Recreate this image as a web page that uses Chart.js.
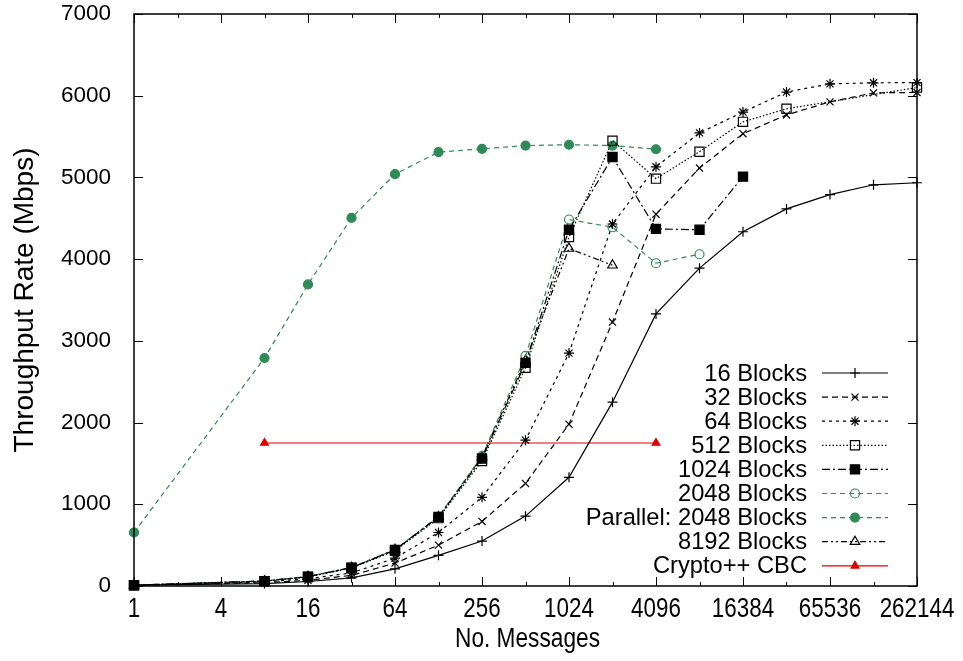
<!DOCTYPE html>
<html>
<head>
<meta charset="utf-8">
<script src="https://cdn.jsdelivr.net/npm/chart.js@4.4.1/dist/chart.umd.min.js"></script>
<style>
html, body { margin: 0; padding: 0; background: #fff; }
#wrap { width: 963px; height: 661px; }
</style>
</head>
<body>
<div id="wrap"><canvas id="chart" width="963" height="661"></canvas></div>
<script>
// message counts (x) and throughput in Mbps (y)
const messages = [1, 8, 16, 32, 64, 128, 256, 512, 1024, 2048, 4096, 8192, 16384, 32768, 65536, 131072, 262144];
const blocks16 = [10, 30, 55, 100, 210, 375, 550, 855, 1330, 2250, 3330, 3890, 4335, 4615, 4790, 4910, 4935];
const blocks32 = [10, 40, 70, 130, 280, 500, 790, 1255, 1980, 3230, 4550, 5115, 5535, 5765, 5925, 6035, 6040];
const blocks64 = [10, 50, 90, 160, 340, 655, 1085, 1785, 2850, 4430, 5130, 5545, 5800, 6045, 6145, 6158, 6160];
const blocks512 = [10, 60, 110, 220, 430, 830, 1530, 2670, 4270, 5450, 4985, 5315, 5680, 5840, null, null, 6100];
const blocks1024 = [10, 60, 115, 225, 440, 845, 1560, 2730, 4360, 5250, 4370, 4360, 5010];
const blocks2048 = [10, 60, 115, 225, 445, 850, 1590, 2815, 4485, 4390, 3950, 4060];
const parallel2048 = [655, 2790, 3690, 4505, 5040, 5310, 5350, 5390, 5400, 5390, 5345];
const blocks8192 = [10, 60, 115, 225, 445, 845, 1580, 2760, 4130, 3925];
const cryptoMessages = [8, 4096];
const cryptoRate = [1750, 1750];

const xTicks = [1, 4, 16, 64, 256, 1024, 4096, 16384, 65536, 262144];
const xMinor = [2, 8, 32, 128, 512, 2048, 8192, 32768, 131072];
const yTicks = [0, 1000, 2000, 3000, 4000, 5000, 6000, 7000];

const GREEN = '#2e8b57';
const FONT = '"Liberation Sans", Arial, Helvetica, sans-serif';

function pts(xs, ys) {
    return ys.map((y, i) => ({ x: xs[i], y: y })).filter(p => p.y !== null);
}

const series = [
    { label: '16 Blocks', data: pts(messages, blocks16), color: '#000', dash: [], style: 'cross', r: 5, open: false },
    { label: '32 Blocks', data: pts(messages, blocks32), color: '#000', dash: [6, 4], style: 'crossRot', r: 5, open: false },
    { label: '64 Blocks', data: pts(messages, blocks64), color: '#000', dash: [3, 4], style: 'star', r: 5, open: false },
    { label: '512 Blocks', data: pts(messages, blocks512), color: '#000', dash: [1.5, 2], style: 'rect', r: 6.5, open: true },
    { label: '1024 Blocks', data: pts(messages, blocks1024), color: '#000', dash: [8, 3, 2, 3], style: 'rect', r: 6.5, open: false },
    { label: '2048 Blocks', data: pts(messages, blocks2048), color: GREEN, dash: [5, 4], style: 'circle', r: 4.5, open: true },
    { label: 'Parallel: 2048 Blocks', data: pts(messages, parallel2048), color: GREEN, dash: [5, 4], style: 'circle', r: 4.5, open: false },
    { label: '8192 Blocks', data: pts(messages, blocks8192), color: '#000', dash: [6, 3, 2, 3, 2, 3], style: 'triangle', r: 5.5, open: true },
    { label: 'Crypto++ CBC', data: pts(cryptoMessages, cryptoRate), color: '#e00000', dash: [], style: 'triangle', r: 4.5, open: false }
];

const datasets = series.map(s => ({
    label: s.label,
    data: s.data,
    borderColor: s.color,
    backgroundColor: s.open ? 'rgba(0,0,0,0)' : s.color,
    borderWidth: 1.2,
    borderDash: s.dash,
    pointStyle: s.style,
    pointRadius: s.r,
    pointBorderColor: s.color,
    pointBackgroundColor: s.open ? 'rgba(0,0,0,0)' : s.color,
    pointBorderWidth: 1.2,
    tension: 0,
    fill: false,
    clip: false
}));

// gnuplot style frame with inward ticks
const framePlugin = {
    id: 'frame',
    afterDatasetsDraw(chart) {
        const { ctx, chartArea: a, scales } = chart;
        ctx.save();
        ctx.strokeStyle = '#000';
        ctx.lineWidth = 1.5;
        ctx.setLineDash([]);
        ctx.strokeRect(a.left, a.top, a.right - a.left, a.bottom - a.top);
        ctx.lineWidth = 1;
        ctx.beginPath();
        xTicks.forEach(v => {
            const x = Math.round(scales.x.getPixelForValue(v)) + 0.5;
            ctx.moveTo(x, a.bottom); ctx.lineTo(x, a.bottom - 9);
            ctx.moveTo(x, a.top); ctx.lineTo(x, a.top + 9);
        });
        xMinor.forEach(v => {
            const x = Math.round(scales.x.getPixelForValue(v)) + 0.5;
            ctx.moveTo(x, a.bottom); ctx.lineTo(x, a.bottom - 4);
            ctx.moveTo(x, a.top); ctx.lineTo(x, a.top + 4);
        });
        yTicks.forEach(v => {
            const y = Math.round(scales.y.getPixelForValue(v)) + 0.5;
            ctx.moveTo(a.left, y); ctx.lineTo(a.left + 9, y);
            ctx.moveTo(a.right, y); ctx.lineTo(a.right - 9, y);
        });
        ctx.stroke();
        ctx.restore();
    }
};

// x labels are narrow and tall in the original, y title is large
const axisTextPlugin = {
    id: 'axisText',
    afterDraw(chart) {
        const { ctx, chartArea: a, scales } = chart;
        ctx.save();
        ctx.fillStyle = '#000';
        ctx.font = '28px ' + FONT;
        ctx.textAlign = 'center';
        ctx.textBaseline = 'alphabetic';
        xTicks.forEach(v => {
            const x = scales.x.getPixelForValue(v);
            ctx.save();
            ctx.translate(x, 617);
            ctx.scale(0.8, 1);
            ctx.fillText(String(v), 0, 0);
            ctx.restore();
        });
        ctx.save();
        ctx.translate((a.left + a.right) / 2 + 2, 647);
        ctx.scale(0.81, 1);
        ctx.fillText('No. Messages', 0, 0);
        ctx.restore();

        ctx.save();
        ctx.translate(33, (a.top + a.bottom) / 2);
        ctx.rotate(-Math.PI / 2);
        ctx.fillText('Throughput Rate (Mbps)', 0, 0);
        ctx.restore();
        ctx.restore();
    }
};

// key inside the plot, bottom right
const keyPlugin = {
    id: 'key',
    afterDraw(chart) {
        const ctx = chart.ctx;
        const textRight = 807, lineL = 822, lineR = 888, mark = 855;
        ctx.save();
        ctx.font = '23.7px ' + FONT;
        ctx.textAlign = 'right';
        ctx.textBaseline = 'middle';
        series.forEach((s, i) => {
            const y = 373 + i * 24.1;
            ctx.fillStyle = '#000';
            ctx.fillText(s.label, textRight, y + 1);
            ctx.strokeStyle = s.color;
            ctx.lineWidth = 1.2;
            ctx.setLineDash(s.dash);
            ctx.beginPath();
            ctx.moveTo(lineL, y);
            ctx.lineTo(lineR, y);
            ctx.stroke();
            ctx.setLineDash([]);
            ctx.fillStyle = s.open ? 'rgba(0,0,0,0)' : s.color;
            Chart.helpers.drawPoint(ctx, { pointStyle: s.style, radius: s.r, rotation: 0, borderWidth: 1.2 }, mark, y);
        });
        ctx.restore();
    }
};

new Chart(document.getElementById('chart'), {
    type: 'line',
    data: { datasets: datasets },
    options: {
        responsive: false,
        animation: false,
        devicePixelRatio: 1,
        layout: { padding: { top: 14, right: 46, left: 0, bottom: 0 } },
        plugins: { legend: { display: false }, tooltip: { enabled: false } },
        scales: {
            x: {
                type: 'logarithmic',
                min: 1,
                max: 262144,
                grid: { display: false },
                border: { display: false },
                afterBuildTicks: s => { s.ticks = xTicks.map(v => ({ value: v })); },
                afterFit: s => { s.height = 75; s.paddingLeft = 0; s.paddingRight = 0; },
                ticks: { display: false },
                title: { display: false }
            },
            y: {
                min: 0,
                max: 7000,
                grid: { display: false },
                border: { display: false },
                afterBuildTicks: s => { s.ticks = yTicks.map(v => ({ value: v })); },
                afterFit: s => { s.width = 134; s.paddingTop = 0; s.paddingBottom = 0; },
                ticks: {
                    color: '#000',
                    font: { family: FONT, size: 22.5 },
                    padding: 15,
                    callback: v => String(v)
                },
                title: { display: false }
            }
        }
    },
    plugins: [framePlugin, axisTextPlugin, keyPlugin]
});
</script>
</body>
</html>
